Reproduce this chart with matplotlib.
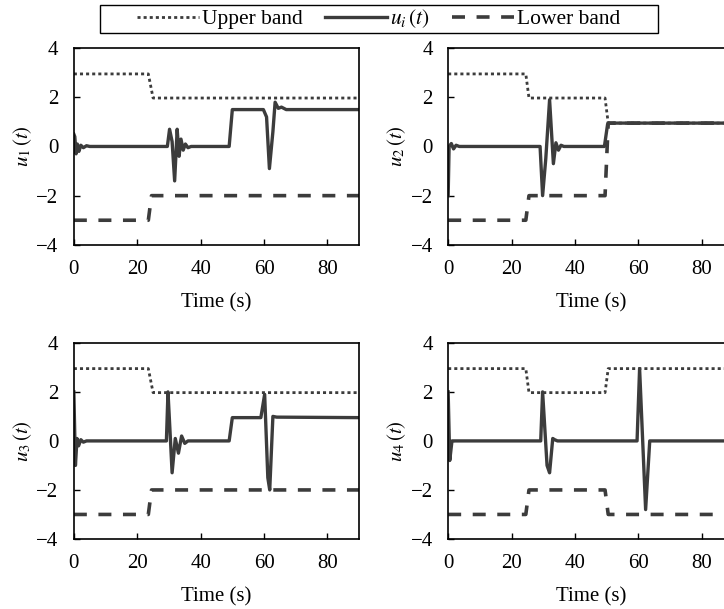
import numpy as np
import matplotlib
matplotlib.use('Agg')
import matplotlib.pyplot as plt
from matplotlib.lines import Line2D
from matplotlib.patches import Rectangle

plt.rcParams['font.family'] = ['Liberation Serif', 'DejaVu Serif']
plt.rcParams['mathtext.fontset'] = 'stix'

# band breakpoints (time, value)
up1_t = [0, 23.5, 25, 90]
up1_v = [2.95, 2.95, 1.97, 1.97]
lo1_t = [0, 23.5, 24.5, 90]
lo1_v = [-3.0, -3.0, -2.0, -2.0]

up2_t = [0, 24.5, 25.5, 49.5, 50.5, 90]
up2_v = [2.95, 2.95, 1.97, 1.97, 0.95, 0.95]
lo2_t = [0, 24.5, 25.5, 49.5, 50.5, 90]
lo2_v = [-3.0, -3.0, -2.0, -2.0, 0.95, 0.95]

up3_t = [0, 23.5, 25, 90]
up3_v = [2.95, 2.95, 1.97, 1.97]
lo3_t = [0, 23.5, 24.5, 90]
lo3_v = [-3.0, -3.0, -2.0, -2.0]

up4_t = [0, 24.5, 25.5, 49.5, 50.5, 90]
up4_v = [2.95, 2.95, 1.97, 1.97, 2.95, 2.95]
lo4_t = [0, 24.5, 25.5, 49.5, 50.5, 90]
lo4_v = [-3.0, -3.0, -2.0, -2.0, -3.0, -3.0]

# control signals u_i(t)
u1_t = [0, 0.3, 0.7, 1.1, 1.6, 2.2, 3, 4, 5, 29.5, 30.2, 31.0, 31.8, 32.6, 33.2,
        33.8, 34.5, 35.2, 36, 37, 49, 50, 59.8, 60.8, 61.7, 62.8, 63.5, 64.5,
        65.5, 67, 90]
u1_v = [0.5, 0.4, -0.3, 0.1, -0.2, 0.05, -0.05, 0.03, 0, 0, 0.7, 0.2, -1.4, 0.7,
        -0.4, 0.3, -0.15, 0.1, -0.05, 0, 0, 1.5, 1.5, 1.2, -0.9, 0.6, 1.8, 1.55,
        1.6, 1.5, 1.5]

u2_t = [0, 0.3, 1.0, 1.7, 2.5, 3.5, 29.0, 29.8, 30.8, 32.0, 33.2, 34.0, 34.8,
        35.6, 36.5, 49.3, 50.3, 51, 90]
u2_v = [-2.0, 0.0, 0.12, -0.1, 0.05, 0, 0, -2.0, -0.5, 1.9, -0.7, 0.15, -0.15,
        0.05, 0, 0, 0.9, 0.95, 0.95]

u3_t = [0, 0.5, 1.0, 1.5, 2.2, 3, 4, 29.2, 29.7, 30.3, 31.0, 32.0, 33.0, 34.0,
        35.0, 36.0, 49, 50, 59.0, 60.2, 61.2, 61.8, 62.8, 64, 90]
u3_v = [2.0, -1.0, 0.1, -0.2, 0.05, -0.05, 0, 0, 2.0, 0.5, -1.3, 0.1, -0.5, 0.2,
        -0.1, 0, 0, 0.95, 0.95, 1.9, -1.5, -2.0, 1.0, 0.97, 0.95]

u4_t = [0, 0.5, 1.2, 29.2, 29.8, 31.2, 32.0, 33.0, 33.6, 34.5, 59.6, 60.4, 62.3,
        63.6, 90]
u4_v = [2.0, -0.8, 0.0, 0, 2.0, -1.0, -1.3, 0.1, 0.05, 0, 0, 2.95, -2.8, 0.0, 0]

panels = [
    (up1_t, up1_v, lo1_t, lo1_v, u1_t, u1_v, r'$u_1\,(t)$'),
    (up2_t, up2_v, lo2_t, lo2_v, u2_t, u2_v, r'$u_2\,(t)$'),
    (up3_t, up3_v, lo3_t, lo3_v, u3_t, u3_v, r'$u_3\,(t)$'),
    (up4_t, up4_v, lo4_t, lo4_v, u4_t, u4_v, r'$u_4\,(t)$'),
]

col = '#3c3c3c'
dot = dict(color=col, lw=2.0, dashes=(1.1, 1.1))
dash = dict(color=col, lw=2.6, dashes=(3.6, 3.2))
solid = dict(color=col, lw=2.4, solid_joinstyle='round')

fig = plt.figure(figsize=(7.24, 6.09), dpi=100)
rects = [[0.102, 0.598, 0.394, 0.323], [0.619, 0.598, 0.394, 0.323],
         [0.102, 0.115, 0.394, 0.322], [0.619, 0.115, 0.394, 0.322]]

for rect, (ut, uv, lt, lv, st, sv, lab) in zip(rects, panels):
    ax = fig.add_axes(rect)
    ax.plot(ut, uv, **dot)
    ax.plot(lt, lv, **dash)
    ax.plot(st, sv, **solid)
    ax.set_xlim(0, 90)
    ax.set_ylim(-4, 4)
    ax.set_xticks([0, 20, 40, 60, 80])
    ax.set_yticks([-4, -2, 0, 2, 4])
    ax.set_yticklabels(['\u22124', '\u22122', '0', '2', '4'])
    ax.tick_params(direction='in', length=4, width=1, labelsize=15)
    ax.tick_params(axis='x', pad=11)
    ax.tick_params(axis='y', pad=11)
    for s in ax.spines.values():
        s.set_linewidth(1.2)
    ax.set_xlabel('Time (s)', fontsize=15, labelpad=10)
    ax.set_ylabel(lab, fontsize=15, labelpad=2)

handles = [Line2D([], [], **dot), Line2D([], [], **solid), Line2D([], [], **dash)]
leg = fig.legend(handles, ['Upper band', r'$u_i\,(t)$', 'Lower band'],
                 loc='center', bbox_to_anchor=(0.523, 0.969), ncol=3,
                 fontsize=15.5, handlelength=2.9, handletextpad=0.15,
                 columnspacing=1.0, frameon=False, borderpad=0.1)
# legend frame is wider than its content
fig.patches.append(Rectangle((100 / 724, 1 - 33 / 609), 558 / 724, 28 / 609,
                             transform=fig.transFigure, fill=False,
                             lw=1.0, ec='black'))

fig.savefig('out.png', dpi=100)
